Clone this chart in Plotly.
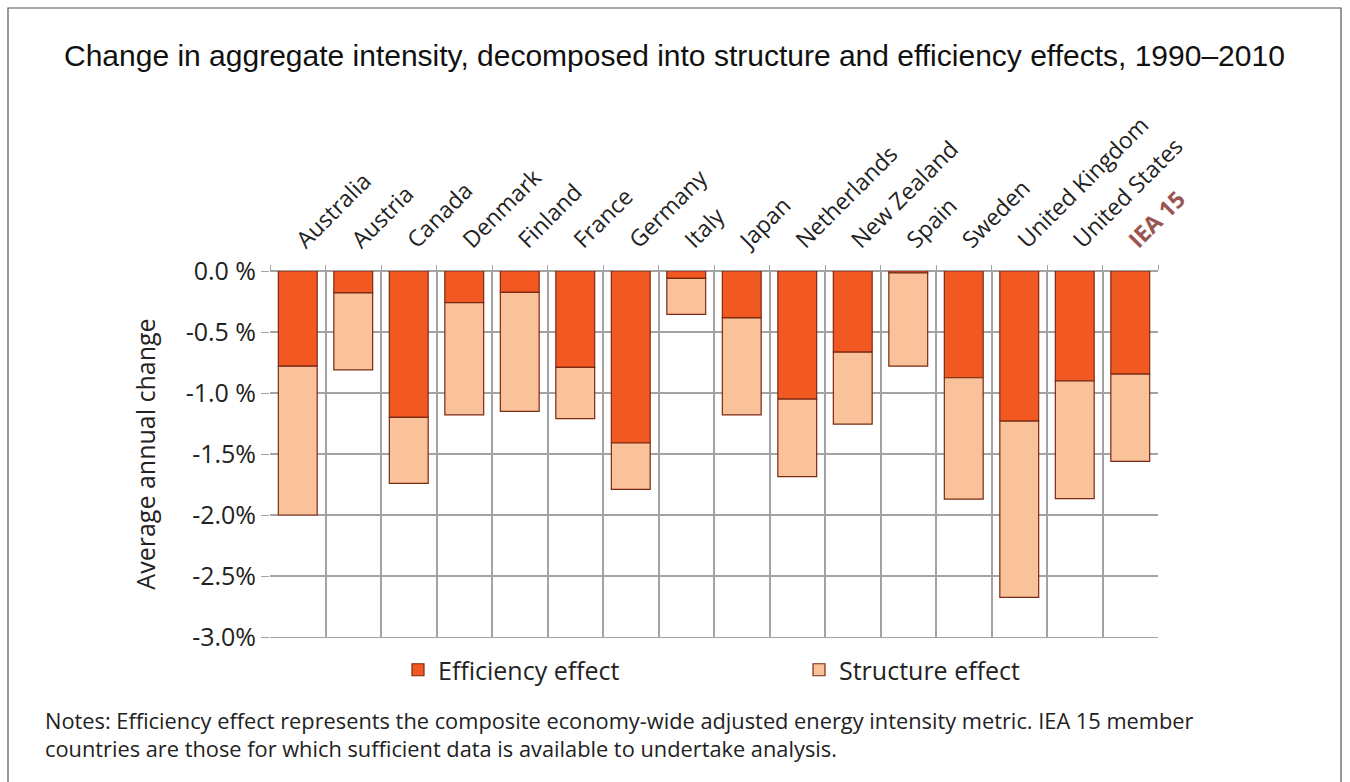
import plotly.graph_objects as go

# ── Data ──────────────────────────────────────────────────────────────────────
countries = [
    "Australia", "Austria", "Canada", "Denmark", "Finland", "France", "Germany",
    "Italy", "Japan", "Netherlands", "New Zealand", "Spain", "Sweden",
    "United Kingdom", "United States", "IEA 15",
]
efficiency = [-0.78, -0.18, -1.20, -0.26, -0.175, -0.79, -1.41, -0.06, -0.385,
              -1.05, -0.665, -0.015, -0.875, -1.23, -0.90, -0.845]
structure = [-1.22, -0.63, -0.54, -0.92, -0.975, -0.42, -0.38, -0.295, -0.795,
             -0.635, -0.59, -0.765, -0.995, -1.445, -0.965, -0.715]

y_ticks = [0.0, -0.5, -1.0, -1.5, -2.0, -2.5, -3.0]
y_ticktext = ["0.0 %", "-0.5 %", "-1.0 %", "-1.5%", "-2.0%", "-2.5%", "-3.0%"]

x_ticktext = countries[:-1] + ["<b><span style='color:#9a5550'>IEA 15</span></b>"]

TITLE = "Change in aggregate intensity, decomposed into structure and efficiency effects, 1990–2010"
NOTES = ("Notes: Efficiency effect represents the composite economy-wide adjusted energy intensity metric. IEA 15 member<br>"
         "countries are those for which sufficient data is available to undertake analysis.")

FONT = "Open Sans"
EDGE = "#7a2a12"
GRID = "#a3a3a3"

# ── Figure ────────────────────────────────────────────────────────────────────
fig = go.Figure()
fig.add_trace(go.Bar(
    x=countries, y=efficiency, name="Efficiency effect",
    marker=dict(color="#F25822", line=dict(color=EDGE, width=1.2)),
    width=0.7,
))
fig.add_trace(go.Bar(
    x=countries, y=structure, name="Structure effect",
    marker=dict(color="#F9C29B", line=dict(color=EDGE, width=1.2)),
    width=0.7,
))

L, R, T, B = 270, 192, 271, 145
W, H = 1350, 782
pw, ph = W - L - R, H - T - B

fig.update_layout(
    width=W, height=H,
    barmode="relative",
    margin=dict(l=L, r=R, t=T, b=B, autoexpand=False),
    plot_bgcolor="white", paper_bgcolor="white",
    font=dict(family=FONT, color="#222222"),
    showlegend=True,
    legend=dict(
        orientation="h", xref="container", yref="container",
        x=398 / W, xanchor="left", y=1 - 670 / H, yanchor="middle",
        font=dict(size=25, family=FONT, color="#222"),
        entrywidth=356, entrywidthmode="pixels",
        traceorder="normal", bgcolor="rgba(0,0,0,0)",
    ),
    xaxis=dict(
        side="top", tickangle=-45, tickson="boundaries",
        tickvals=countries, ticktext=x_ticktext,
        tickfont=dict(size=23, family=FONT, color="#222"),
        ticklabelstandoff=8,
        showgrid=True, gridcolor=GRID, gridwidth=1.5,
        ticks="outside", ticklen=5, tickcolor=GRID,
        showline=True, linecolor=GRID, mirror=True,
    ),
    yaxis=dict(
        range=[-3.0, 0.0], tickvals=y_ticks, ticktext=y_ticktext,
        tickfont=dict(size=25, family=FONT, color="#222"),
        showgrid=True, gridcolor=GRID, gridwidth=1.5,
        zeroline=True, zerolinecolor=GRID, zerolinewidth=1.5,
        ticks="outside", ticklen=8, tickcolor=GRID,
        title=dict(text="Average annual change", font=dict(size=25, family=FONT, color="#222"), standoff=22),
    ),
)

fig.add_annotation(
    text=TITLE, xref="paper", yref="paper",
    x=(674 - L) / pw, y=1 + (T - 55) / ph, xanchor="center", yanchor="middle",
    showarrow=False, font=dict(size=30, family="Liberation Sans", color="#111"),
)
fig.add_annotation(
    text=NOTES, xref="paper", yref="paper", align="left",
    x=(43 - L) / pw, y=-(734 - T - ph) / ph, xanchor="left", yanchor="middle",
    showarrow=False, font=dict(size=21.8, family=FONT, color="#222"),
)
# outer frame
fig.add_shape(
    type="rect", xref="paper", yref="paper",
    x0=(8 - L) / pw, x1=(1341 - L) / pw, y0=-(790 - T - ph) / ph, y1=1 + (T - 8) / ph,
    line=dict(color="#555", width=1.2),
)

fig.write_html("out.html", config={"displayModeBar": False},
               post_script="document.body.style.margin='0';")
